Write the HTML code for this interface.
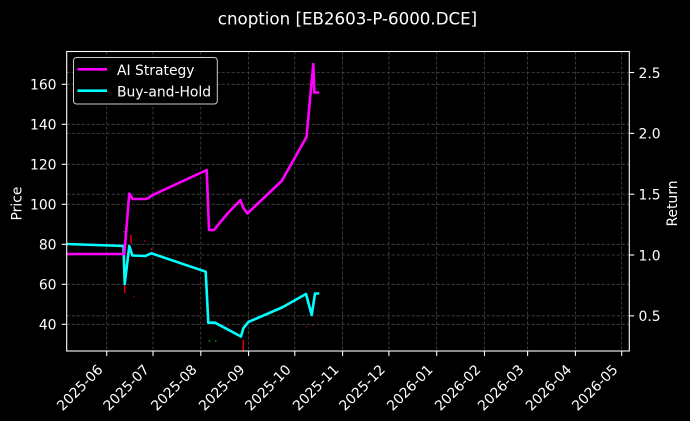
<!DOCTYPE html>
<html>
<head>
<meta charset="utf-8">
<style>
  html, body { margin: 0; padding: 0; background: #000; }
  svg { display: block; }
  text { font-family: "DejaVu Sans", "Liberation Sans", sans-serif; fill: #fff; }
</style>
</head>
<body>
<svg width="690" height="421" viewBox="0 0 690 421" xmlns="http://www.w3.org/2000/svg">
  <rect x="0" y="0" width="690" height="421" fill="#000"/>

  <!-- Title -->
  <text x="347.5" y="24.3" font-size="16.67" text-anchor="middle">cnoption [EB2603-P-6000.DCE]</text>

  <!-- Grid -->
  <g stroke="#4a4a4a" stroke-width="0.8" stroke-dasharray="3,2" fill="none">
    <!-- vertical -->
    <line x1="106.7" y1="51.5" x2="106.7" y2="351"/>
    <line x1="153.0" y1="51.5" x2="153.0" y2="351"/>
    <line x1="200.8" y1="51.5" x2="200.8" y2="351"/>
    <line x1="248.6" y1="51.5" x2="248.6" y2="351"/>
    <line x1="294.8" y1="51.5" x2="294.8" y2="351"/>
    <line x1="342.6" y1="51.5" x2="342.6" y2="351"/>
    <line x1="388.9" y1="51.5" x2="388.9" y2="351"/>
    <line x1="436.7" y1="51.5" x2="436.7" y2="351"/>
    <line x1="484.5" y1="51.5" x2="484.5" y2="351"/>
    <line x1="527.6" y1="51.5" x2="527.6" y2="351"/>
    <line x1="575.4" y1="51.5" x2="575.4" y2="351"/>
    <line x1="621.7" y1="51.5" x2="621.7" y2="351"/>
    <!-- horizontal left axis -->
    <line x1="66.7" y1="84.3" x2="629.3" y2="84.3"/>
    <line x1="66.7" y1="124.3" x2="629.3" y2="124.3"/>
    <line x1="66.7" y1="164.3" x2="629.3" y2="164.3"/>
    <line x1="66.7" y1="204.3" x2="629.3" y2="204.3"/>
    <line x1="66.7" y1="244.3" x2="629.3" y2="244.3"/>
    <line x1="66.7" y1="284.3" x2="629.3" y2="284.3"/>
    <line x1="66.7" y1="324.3" x2="629.3" y2="324.3"/>
    <!-- horizontal right axis -->
    <line x1="66.7" y1="72.5" x2="629.3" y2="72.5"/>
    <line x1="66.7" y1="133.4" x2="629.3" y2="133.4"/>
    <line x1="66.7" y1="194.2" x2="629.3" y2="194.2"/>
    <line x1="66.7" y1="255.0" x2="629.3" y2="255.0"/>
    <line x1="66.7" y1="315.8" x2="629.3" y2="315.8"/>
  </g>

  <!-- Small trade markers -->
  <g stroke-width="1.5" fill="none">
    <line x1="124.7" y1="285" x2="124.7" y2="293" stroke="#e00000"/>
    <line x1="131" y1="235" x2="131" y2="243.5" stroke="#e00000"/>
    <line x1="243.3" y1="340" x2="243.3" y2="351" stroke="#e00000"/>
  </g>
  <g>
    <rect x="144" y="240.3" width="1.5" height="1.5" fill="#c00000"/>
    <rect x="150.6" y="248.3" width="1.5" height="2" fill="#c00000"/>
    <rect x="133.3" y="296" width="1.3" height="1.3" fill="#a00000"/>
    <rect x="123.4" y="231" width="1.3" height="1.3" fill="#407040"/>
    <rect x="208.6" y="340.3" width="1.5" height="1.5" fill="#109010"/>
    <rect x="215" y="340.3" width="1.5" height="1.5" fill="#109010"/>
    <rect x="247.8" y="331" width="1.2" height="1.5" fill="#108010"/>
    <rect x="306" y="326" width="1.3" height="1.3" fill="#a00000"/>
    <rect x="312.7" y="324.5" width="1.3" height="1.3" fill="#a00000"/>
  </g>

  <!-- Buy-and-Hold (cyan) -->
  <polyline fill="none" stroke="#00ffff" stroke-width="2.6" stroke-linejoin="round" stroke-linecap="butt"
    points="66.7,244 123.5,246 124.7,284 129.3,246 132.3,255.5 145.3,256 151.3,253.3 205.7,271.7 208.3,322.7 215,322.7 241,336.5 243.3,328.3 248.3,322 282,307.5 306,294 311.7,315 315,293.5 319.3,293.5"/>

  <!-- AI Strategy (magenta) -->
  <polyline fill="none" stroke="#ff00ff" stroke-width="2.6" stroke-linejoin="round" stroke-linecap="butt"
    points="66.7,254 124.3,254 129.3,193.5 132.7,199 145.3,199 148,198.3 151.3,195.7 206.7,170 209,230 214,230 220,222.5 228,213 240.5,200 242.8,207 247.3,213.5 281.7,181 306.5,137 313.3,64 314.3,92.5 319.3,92.5"/>

  <!-- Spines -->
  <rect x="66.7" y="51.5" width="562.6" height="299.5" fill="none" stroke="#fff" stroke-width="1.1"/>

  <!-- Left ticks -->
  <g stroke="#fff" stroke-width="1.1">
    <line x1="61.8" y1="84.3" x2="66.7" y2="84.3"/>
    <line x1="61.8" y1="124.3" x2="66.7" y2="124.3"/>
    <line x1="61.8" y1="164.3" x2="66.7" y2="164.3"/>
    <line x1="61.8" y1="204.3" x2="66.7" y2="204.3"/>
    <line x1="61.8" y1="244.3" x2="66.7" y2="244.3"/>
    <line x1="61.8" y1="284.3" x2="66.7" y2="284.3"/>
    <line x1="61.8" y1="324.3" x2="66.7" y2="324.3"/>
    <!-- right ticks -->
    <line x1="629.3" y1="72.5" x2="634.2" y2="72.5"/>
    <line x1="629.3" y1="133.4" x2="634.2" y2="133.4"/>
    <line x1="629.3" y1="194.2" x2="634.2" y2="194.2"/>
    <line x1="629.3" y1="255.0" x2="634.2" y2="255.0"/>
    <line x1="629.3" y1="315.8" x2="634.2" y2="315.8"/>
    <!-- bottom ticks -->
    <line x1="106.7" y1="351" x2="106.7" y2="355.9"/>
    <line x1="153.0" y1="351" x2="153.0" y2="355.9"/>
    <line x1="200.8" y1="351" x2="200.8" y2="355.9"/>
    <line x1="248.6" y1="351" x2="248.6" y2="355.9"/>
    <line x1="294.8" y1="351" x2="294.8" y2="355.9"/>
    <line x1="342.6" y1="351" x2="342.6" y2="355.9"/>
    <line x1="388.9" y1="351" x2="388.9" y2="355.9"/>
    <line x1="436.7" y1="351" x2="436.7" y2="355.9"/>
    <line x1="484.5" y1="351" x2="484.5" y2="355.9"/>
    <line x1="527.6" y1="351" x2="527.6" y2="355.9"/>
    <line x1="575.4" y1="351" x2="575.4" y2="355.9"/>
    <line x1="621.7" y1="351" x2="621.7" y2="355.9"/>
  </g>

  <!-- Left tick labels -->
  <g font-size="13.9" text-anchor="end">
    <text x="56.5" y="89.6">160</text>
    <text x="56.5" y="129.6">140</text>
    <text x="56.5" y="169.6">120</text>
    <text x="56.5" y="209.6">100</text>
    <text x="56.5" y="249.6">80</text>
    <text x="56.5" y="289.6">60</text>
    <text x="56.5" y="329.6">40</text>
  </g>

  <!-- Right tick labels -->
  <g font-size="13.9" text-anchor="start">
    <text x="638.5" y="77.8">2.5</text>
    <text x="638.5" y="138.7">2.0</text>
    <text x="638.5" y="199.5">1.5</text>
    <text x="638.5" y="260.3">1.0</text>
    <text x="638.5" y="321.1">0.5</text>
  </g>

  <!-- X tick labels -->
  <g font-size="13.9" text-anchor="end">
    <text x="103.7" y="370.5" transform="rotate(-45 103.7 370.5)">2025-06</text>
    <text x="150.0" y="370.5" transform="rotate(-45 150.0 370.5)">2025-07</text>
    <text x="197.8" y="370.5" transform="rotate(-45 197.8 370.5)">2025-08</text>
    <text x="245.6" y="370.5" transform="rotate(-45 245.6 370.5)">2025-09</text>
    <text x="291.8" y="370.5" transform="rotate(-45 291.8 370.5)">2025-10</text>
    <text x="339.6" y="370.5" transform="rotate(-45 339.6 370.5)">2025-11</text>
    <text x="385.9" y="370.5" transform="rotate(-45 385.9 370.5)">2025-12</text>
    <text x="433.7" y="370.5" transform="rotate(-45 433.7 370.5)">2026-01</text>
    <text x="481.5" y="370.5" transform="rotate(-45 481.5 370.5)">2026-02</text>
    <text x="524.6" y="370.5" transform="rotate(-45 524.6 370.5)">2026-03</text>
    <text x="572.4" y="370.5" transform="rotate(-45 572.4 370.5)">2026-04</text>
    <text x="618.7" y="370.5" transform="rotate(-45 618.7 370.5)">2026-05</text>
  </g>

  <!-- Axis labels -->
  <text x="21.5" y="203.5" font-size="13.9" text-anchor="middle" transform="rotate(-90 21.5 203.5)">Price</text>
  <text x="677" y="203.5" font-size="13.9" text-anchor="middle" transform="rotate(-90 677 203.5)">Return</text>

  <!-- Legend -->
  <rect x="73.5" y="57.5" width="143.8" height="46.5" rx="3" ry="3" fill="#000" stroke="#cccccc" stroke-width="1"/>
  <line x1="77.5" y1="69.3" x2="107" y2="69.3" stroke="#ff00ff" stroke-width="2.6"/>
  <line x1="77.5" y1="90.7" x2="107" y2="90.7" stroke="#00ffff" stroke-width="2.6"/>
  <text x="117" y="75" font-size="13.9">AI Strategy</text>
  <text x="117" y="96.4" font-size="13.9">Buy-and-Hold</text>
</svg>
</body>
</html>
